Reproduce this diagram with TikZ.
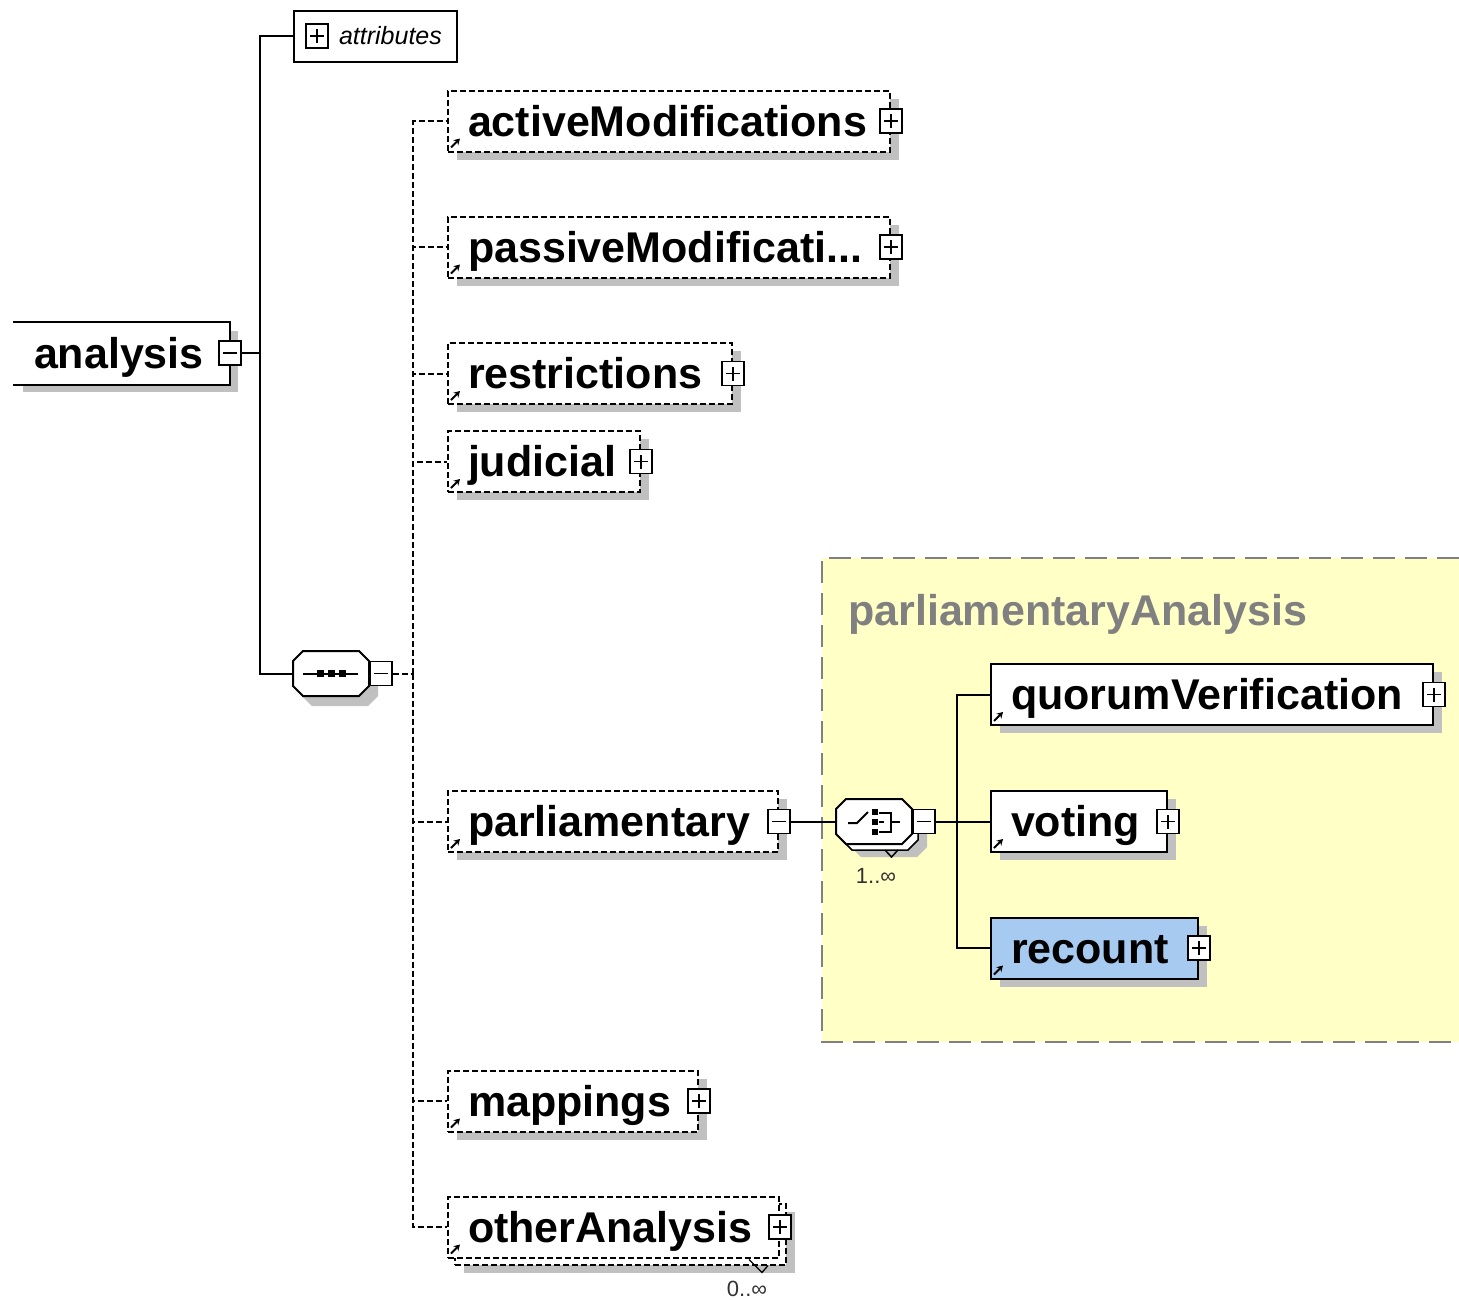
\documentclass[tikz,border=0pt]{standalone}
\usepackage{fontspec}
\setmainfont{Liberation Sans}
\usetikzlibrary{arrows.meta,shadows,positioning}

\definecolor{shadowgray}{HTML}{C0C0C0}
\definecolor{groupyellow}{HTML}{FFFFC6}
\definecolor{groupgray}{HTML}{808080}
\definecolor{pickblue}{HTML}{A6CAF0}

\newcommand{\elfont}{\fontsize{43}{43}\selectfont\bfseries}
\newcommand{\multfont}{\fontsize{22}{22}\selectfont}
\newcommand{\octapath}{++(-28,-22.5) -- ++(56,0) -- ++(10,10) -- ++(0,25) -- ++(-10,10) -- ++(-56,0) -- ++(-10,-10) -- ++(0,-25) -- cycle}

\tikzset{
  elbox/.style={draw, line width=2pt, fill=white, anchor=west, font=\elfont,
    minimum height=61pt, inner xsep=20pt, inner ysep=0pt,
    text height=31pt, text depth=1pt, align=left},
  optbox/.style={elbox, dash pattern=on 6pt off 3pt},
  shady/.style={drop shadow={shadow xshift=9pt, shadow yshift=-8pt, fill=shadowgray, opacity=1}},
  btn/.style={draw, line width=1.7pt, fill=white, minimum width=22pt, minimum height=24pt, inner sep=0pt},
  plusbtn/.style={btn, path picture={
    \draw[line width=1.7pt] ([xshift=-7pt]path picture bounding box.center) -- ([xshift=7pt]path picture bounding box.center)
      ([yshift=-7pt]path picture bounding box.center) -- ([yshift=7pt]path picture bounding box.center);}},
  minusbtn/.style={btn, path picture={
    \draw[line width=1.7pt] ([xshift=-7pt]path picture bounding box.center) -- ([xshift=7pt]path picture bounding box.center);}},
  compo/.style={minimum width=76pt, minimum height=45pt, inner sep=0pt},
  compoline/.style={draw, line width=2pt, fill=white},
  link/.style={line width=2pt},
  optlink/.style={link, dash pattern=on 6pt off 3pt},
  refarrow/.style={line width=2pt, -{Stealth[length=6pt, width=7pt]}},
  mult/.style={font=\multfont, inner sep=0pt, text=black!80},
}

\begin{document}
\begin{tikzpicture}[x=1pt,y=-1pt]
	\useasboundingbox (0,0) rectangle (1459,1299);

	% group parliamentaryAnalysis
	\fill[groupyellow] (822,558) rectangle (1459,1042);
	\draw[groupgray, line width=2pt, dash pattern=on 22pt off 10pt] (1459,558) -- (822,558) -- (822,1042) -- (1459,1042);
	\node[font=\elfont, text=groupgray, anchor=base west, inner sep=0pt] (pa-title) at (848,625) {parliamentaryAnalysis};

	% root
	\node[elbox, shady, draw=none, text width=175pt] (an) at (13,353) {analysis};
	\draw[link] (an.north west) -- (an.north east) -- (an.south east) -- (an.south west);
	\node[minusbtn] (an-btn) at (an.east) {};
	\coordinate (j1) at (260,353);

	% attributes
	\node[draw, line width=2pt, fill=white, anchor=west, minimum width=163pt, minimum height=51pt] (attr) at (293,36) {};
	\node[plusbtn] (attr-btn) at ([xshift=24pt]attr.west) {};
	\node[font=\fontsize{25}{25}\selectfont\itshape, anchor=west, inner sep=0pt] (attr-txt) at ([xshift=10pt]attr-btn.east) {attributes};

	% sequence
	\node[compo] (seq) at (331,673.5) {};
	\fill[shadowgray] ([shift={(9,10)}]seq.center) \octapath;
	\draw[compoline] (seq.center) \octapath;
	\draw[link] ([xshift=-28pt]seq.center) -- ([xshift=27pt]seq.center);
	\fill ([shift={(-11,0)}]seq.center) ++(-3.5,-3.5) rectangle ++(7,7);
	\fill ([shift={(0,0)}]seq.center) ++(-3.5,-3.5) rectangle ++(7,7);
	\fill ([shift={(11,0)}]seq.center) ++(-3.5,-3.5) rectangle ++(7,7);
	\node[minusbtn] (seq-btn) at ([xshift=11.5pt]seq.east) {};
	\coordinate (j2) at (413,673.5);

	% children of the sequence
	\node[optbox, shady, text width=402pt] (am) at (447,121) {activeModifications};
	\node[plusbtn] (am-btn) at (am.east) {};
	\node[optbox, shady, text width=402pt] (pm) at (447,247) {passiveModificati...};
	\node[plusbtn] (pm-btn) at (pm.east) {};
	\node[optbox, shady, text width=244pt] (re) at (447,373.5) {restrictions};
	\node[plusbtn] (re-btn) at (re.east) {};
	\node[optbox, shady, text width=152pt] (ju) at (447,461.5) {judicial};
	\node[plusbtn] (ju-btn) at (ju.east) {};
	\node[optbox, shady, text width=290pt] (pa) at (447,821.5) {parliamentary};
	\node[minusbtn] (pa-btn) at (pa.east) {};
	\node[optbox, shady, text width=210pt] (ma) at (447,1101) {mappings};
	\node[plusbtn] (ma-btn) at (ma.east) {};
	\node[optbox, shady, text width=291pt] (oa-back) at (454,1234) {};
	\node[optbox, text width=291pt] (oa) at (447,1227) {otherAnalysis};
	\node[plusbtn] (oa-btn) at (oa.east) {};
	\draw[line width=1.3pt] ([shift={(-38,-6)}]oa-back.south east) -- ++(13,13) -- ++(6,-7);
	\node[mult] (oa-mult) at ([shift={(-33,30)}]oa.south east) {0..∞};

	% choice
	\node[compo] (choice) at (874,821.5) {};
	\fill[shadowgray] ([shift={(15,13)}]choice.center) \octapath;
	\draw[compoline, line width=1.5pt] ([shift={(6,6)}]choice.center) \octapath;
	\draw[line width=1.5pt] ([shift={(11,28.5)}]choice.center) -- ++(6.5,7) -- ++(6.5,-7);
	\draw[compoline] (choice.center) \octapath;
	\draw[link] ([shift={(-26,1.5)}]choice.center) -- ++(9,0) -- ++(11,-11);
	\fill ([shift={(0.5,-10)}]choice.center) ++(-3,-3) rectangle ++(6,6);
	\fill ([shift={(0.5,0)}]choice.center) ++(-3,-3) rectangle ++(6,6);
	\fill ([shift={(0.5,10)}]choice.center) ++(-3,-3) rectangle ++(6,6);
	\draw[link] ([shift={(5,-9)}]choice.center) -- ++(12,0) -- ++(0,19) -- ++(-12,0);
	\draw[link] ([shift={(5,0.5)}]choice.center) -- ++(5,0) ([shift={(17,0.5)}]choice.center) -- ++(9,0);
	\node[minusbtn] (ch-btn) at ([xshift=11.5pt]choice.east) {};
	\node[mult] (ch-mult) at ([shift={(2,54)}]choice.center) {1..∞};
	\coordinate (j3) at (957,821.5);

	% children of the choice
	\node[elbox, shady, text width=402pt] (qv) at (990,694.5) {quorumVerification};
	\node[plusbtn] (qv-btn) at (qv.east) {};
	\node[elbox, shady, text width=136pt] (vo) at (990,821.5) {voting};
	\node[plusbtn] (vo-btn) at (vo.east) {};
	\node[elbox, shady, fill=pickblue, text width=167pt] (rc) at (990,948) {recount};
	\node[plusbtn] (rc-btn) at (rc.east) {};

	% reference arrows
	\draw[refarrow] ([shift={(4,-5)}]am.south west) -- ++(9,-9);
	\draw[refarrow] ([shift={(4,-5)}]pm.south west) -- ++(9,-9);
	\draw[refarrow] ([shift={(4,-5)}]re.south west) -- ++(9,-9);
	\draw[refarrow] ([shift={(4,-5)}]ju.south west) -- ++(9,-9);
	\draw[refarrow] ([shift={(4,-5)}]pa.south west) -- ++(9,-9);
	\draw[refarrow] ([shift={(4,-5)}]ma.south west) -- ++(9,-9);
	\draw[refarrow] ([shift={(4,-5)}]oa.south west) -- ++(9,-9);
	\draw[refarrow] ([shift={(4,-5)}]qv.south west) -- ++(9,-9);
	\draw[refarrow] ([shift={(4,-5)}]vo.south west) -- ++(9,-9);
	\draw[refarrow] ([shift={(4,-5)}]rc.south west) -- ++(9,-9);

	% connectors
	\draw[link] (an-btn.east) -- (j1);
	\draw[link] (attr.west) -| (j1) |- (seq.west);
	\draw[optlink] (seq-btn.east) -- (j2);
	\draw[optlink] (j2) |- (am.west);
	\draw[optlink] (j2) |- (pm.west);
	\draw[optlink] (j2) |- (re.west);
	\draw[optlink] (j2) |- (ju.west);
	\draw[optlink] (j2) |- (pa.west);
	\draw[optlink] (j2) |- (ma.west);
	\draw[optlink] (j2) |- (oa.west);
	\draw[link] (pa-btn.east) -- (choice.west);
	\draw[link] (ch-btn.east) -- (j3);
	\draw[link] (j3) |- (qv.west);
	\draw[link] (j3) |- (vo.west);
	\draw[link] (j3) |- (rc.west);
\end{tikzpicture}
\end{document}
